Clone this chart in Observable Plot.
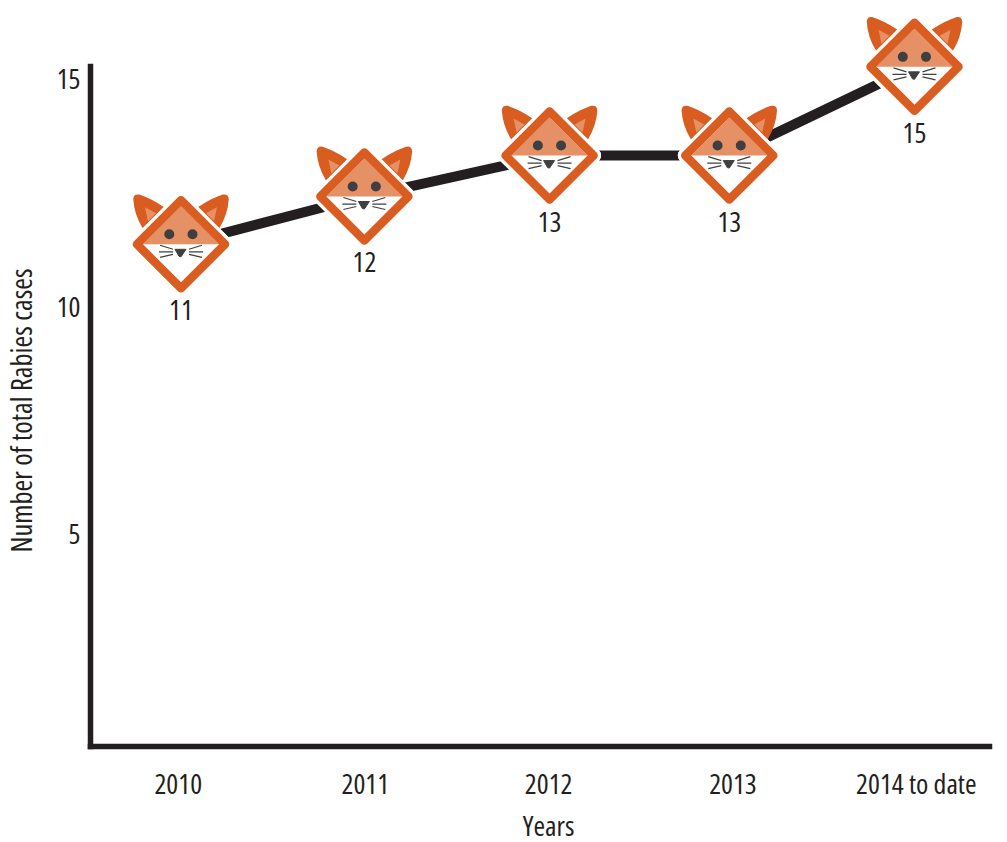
<!DOCTYPE html>
<html>
<head>
<meta charset="utf-8">
<script src="https://cdn.jsdelivr.net/npm/d3@7"></script>
<script src="https://cdn.jsdelivr.net/npm/@observablehq/plot@0.6"></script>
<style>body{margin:0;background:#fff}svg{display:block}svg text{font-stretch:75%}</style>
</head>
<body>
<div id="chart"></div>
<script>
const years = ["2010", "2011", "2012", "2013", "2014 to date"];
const labels = [11, 12, 13, 13, 15];
const plotted = [11.4, 12.45, 13.35, 13.35, 15.3];
const foxSlots = [0, 1, 2.01, 2.99, 4];
const tickSlots = [-0.015, 1.005, 2.005, 3.01, 4.01];
const yTicks = [5, 10, 15];

const table = years.map((year, i) => ({slot: foxSlots[i], label: labels[i], value: plotted[i]}));

const INK = "#231f20", ORANGE = "#d95c21", TAN = "#e59065", DARK = "#3f3f41";
const FONT = "'Open Sans',sans-serif";
const SIZE = 28;

// Icon shapes, drawn in a unit box whose half-width is 48.
function symbolOf(fn) {
  return {draw(ctx, size) {
    const k = Math.sqrt(size / Math.PI) / 48;
    const u = v => v * k;
    fn({
      m: (x, y) => ctx.moveTo(u(x), u(y)),
      l: (x, y) => ctx.lineTo(u(x), u(y)),
      q: (a, b, x, y) => ctx.quadraticCurveTo(u(a), u(b), u(x), u(y)),
      c: () => ctx.closePath(),
      o: (x, y, r) => { ctx.moveTo(u(x + r), u(y)); ctx.arc(u(x), u(y), u(r), 0, 2 * Math.PI); }
    });
  }};
}
const earPath = s => p => {
  p.m(s * 18, -37);
  p.q(s * 32, -46, s * 42, -49);
  p.q(s * 47, -50, s * 47, -45);
  p.q(s * 46, -30, s * 38, -17);
  p.c();
};
const earInnerPath = s => p => {
  p.m(s * 25, -31);
  p.l(s * 36, -37);
  p.l(s * 33, -23);
  p.c();
};
const bothEars = p => { earPath(-1)(p); earPath(1)(p); };
const bothInner = p => { earInnerPath(-1)(p); earInnerPath(1)(p); };

const earsSym = symbolOf(bothEars);
const earsInnerSym = symbolOf(bothInner);
const diamondSym = symbolOf(p => { p.m(0, -44); p.l(44, 0); p.l(0, 44); p.l(-44, 0); p.c(); });
const faceSym = symbolOf(p => { p.m(0, -38); p.l(38, 0); p.l(-38, 0); p.c(); });
const eyesSym = symbolOf(p => { p.o(-11.7, -10, 5); p.o(11.5, -10, 5); });
const noseSym = symbolOf(p => { p.m(-6, 5); p.l(5, 5); p.l(0, 12.5); p.l(-2, 12); p.c(); });
const whiskerSym = symbolOf(p => {
  for (const s of [-1, 1]) {
    p.m(s * 8, 5); p.l(s * 21, 1);
    p.m(s * 8, 7.5); p.l(s * 22, 7.5);
    p.m(s * 8, 10); p.l(s * 21, 13);
  }
});

const layer = (symbol, o) => Plot.dot(table, {x: "slot", y: "value", r: 48, symbol, ...o});

const plot = Plot.plot({
  width: 1007,
  height: 842,
  marginTop: 66,
  marginLeft: 90,
  marginRight: 18,
  marginBottom: 96,
  style: {fontFamily: FONT, fontSize: SIZE + "px", color: INK, background: "#fff"},
  x: {type: "linear", domain: [0, 4], range: [180.5, 914], axis: null},
  y: {domain: [0, 15], range: [762.5, 80], axis: null},
  marks: [
    Plot.frame({anchor: "left", stroke: INK, strokeWidth: 5.5}),
    Plot.frame({anchor: "bottom", stroke: INK, strokeWidth: 5.5}),
    Plot.axisY({ticks: yTicks, tickSize: 0, tickPadding: 10, label: null, fontSize: SIZE, stroke: "none"}),
    Plot.axisX({ticks: tickSlots, tickFormat: d => years[Math.round(d)], tickSize: 0, tickPadding: 28, label: null, fontSize: SIZE, stroke: "none"}),
    Plot.text(["Number of total Rabies cases"], {frameAnchor: "left", textAnchor: "middle", rotate: -90, dx: -68, dy: 4, fontSize: 28.5, fill: INK}),
    Plot.text(["Years"], {frameAnchor: "bottom", dx: 8.5, dy: 89, fontSize: SIZE, fill: INK}),
    Plot.line(table, {x: "slot", y: "value", stroke: INK, strokeWidth: 10, curve: "linear"}),
    layer(diamondSym, {fill: "#fff", stroke: "#fff", strokeWidth: 15, strokeLinejoin: "round"}),
    layer(earsSym, {fill: ORANGE, stroke: ORANGE, strokeWidth: 1.5, strokeLinejoin: "round"}),
    layer(earsInnerSym, {fill: TAN, stroke: "none"}),
    layer(diamondSym, {fill: "#fff", stroke: "#fff", strokeWidth: 15, strokeLinejoin: "round"}),
    layer(faceSym, {fill: TAN, stroke: "none"}),
    layer(diamondSym, {fill: "none", stroke: ORANGE, strokeWidth: 8.5, strokeLinejoin: "round"}),
    layer(eyesSym, {fill: DARK, stroke: "none"}),
    layer(noseSym, {fill: DARK, stroke: DARK, strokeWidth: 1, strokeLinejoin: "round"}),
    layer(whiskerSym, {fill: "none", stroke: DARK, strokeWidth: 1.2}),
    Plot.text(table, {x: "slot", y: "value", text: "label", dy: 67, fontSize: SIZE, fill: INK})
  ]
});
document.getElementById("chart").append(plot);
</script>
</body>
</html>
